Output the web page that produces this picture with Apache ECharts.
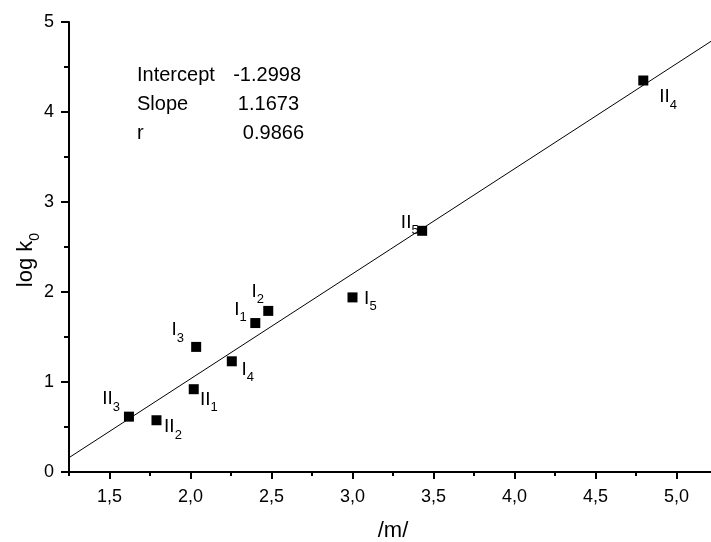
<!DOCTYPE html>
<html>
<head>
<meta charset="utf-8">
<script src="https://cdn.jsdelivr.net/npm/echarts@6/dist/echarts.min.js"></script>
<style>
html,body{margin:0;padding:0;background:#fff;}
#chart{width:711px;height:542px;}
</style>
</head>
<body>
<div id="chart"></div>
<script>
// ---- data ----
var pointNames = ['II3', 'II2', 'II1', 'I4', 'I3', 'I1', 'I2', 'I5', 'II5', 'II4'];
var labelMain  = ['II', 'II', 'II', 'I', 'I', 'I', 'I', 'I', 'II', 'II'];
var labelSub   = ['3', '2', '1', '4', '3', '1', '2', '5', '5', '4'];
var xValues    = [1.62, 1.79, 2.02, 2.255, 2.035, 2.40, 2.48, 3.00, 3.43, 4.795];
var yValues    = [0.615, 0.575, 0.92, 1.23, 1.39, 1.655, 1.79, 1.94, 2.68, 4.35];
var fitIntercept = -1.2998;
var fitSlope = 1.1673;
var fitR = 0.9866;
var xTickValues = [1.5, 2.0, 2.5, 3.0, 3.5, 4.0, 4.5, 5.0];
var yTickValues = [0, 1, 2, 3, 4, 5];
var xName = '/m/';

// ---- styling / label placement (not data) ----
var FONT = '"Liberation Sans", Arial, Helvetica, sans-serif';
var labelPlacement = {
  II3: {align: 'right', pos: [-4, -22]},
  II2: {align: 'left',  pos: [12.6, 2.2]},
  II1: {align: 'left',  pos: [11.3, 5.9]},
  I4:  {align: 'left',  pos: [14.6, 3.9]},
  I3:  {align: 'right', pos: [-7.2, -21.2]},
  I1:  {align: 'right', pos: [-3.5, -17.8]},
  I2:  {align: 'right', pos: [0.8, -24.1]},
  I5:  {align: 'left',  pos: [16.6, -3.5]},
  II5: {align: 'right', pos: [1.5, -12.5]},
  II4: {align: 'left',  pos: [21, 12]}
};

var xMin = 1.25, xMax = 5.25;

var scatterData = pointNames.map(function (n, i) {
  var p = labelPlacement[n];
  return {
    name: n,
    value: [xValues[i], yValues[i]],
    label: {
      show: true,
      formatter: '{a|' + labelMain[i] + '}{b|' + labelSub[i] + '}',
      position: p.pos,
      align: p.align,
      verticalAlign: 'top'
    }
  };
});

var fitData = [xMin, xMax].map(function (x) { return [x, fitIntercept + fitSlope * x]; });

var chart = echarts.init(document.getElementById('chart'), null, {renderer: 'canvas'});
var fmt = function (v) { return String(Number(v).toFixed(1)).replace('.', ','); };

chart.setOption({
  animation: false,
  backgroundColor: '#fff',
  grid: {left: 69, right: -6, top: 22, bottom: 70, containLabel: false, outerBoundsMode: 'none'},
  xAxis: [{
    type: 'value', position: 'bottom', min: xMin, max: xMax,
    name: xName, nameLocation: 'middle', nameGap: 48, nameMoveOverlap: false,
    nameTextStyle: {fontFamily: FONT, fontSize: 22, color: '#000'},
    axisLine: {show: true, onZero: false, lineStyle: {color: '#000', width: 2}},
    axisTick: {show: true, inside: false, length: 7, customValues: xTickValues, lineStyle: {color: '#000', width: 2}},
    axisLabel: {show: true, customValues: xTickValues, margin: 16, fontFamily: FONT, fontSize: 18, color: '#000', formatter: fmt},
    splitLine: {show: false}
  }, {
    type: 'value', position: 'bottom', min: xMin, max: xMax, interval: 0.25,
    axisLine: {show: false},
    axisTick: {show: true, inside: false, length: 4, lineStyle: {color: '#000', width: 2}},
    axisLabel: {show: false},
    splitLine: {show: false}
  }],
  yAxis: {
    type: 'value', min: 0, max: 5, interval: 1,
    name: '{a|log k}{b|0}', nameLocation: 'middle', nameGap: 27, nameMoveOverlap: false,
    nameTextStyle: {
      fontFamily: FONT, fontSize: 22, color: '#000', padding: [0, 26, 0, 0],
      rich: {
        a: {fontFamily: FONT, fontSize: 22, color: '#000', verticalAlign: 'top'},
        b: {fontFamily: FONT, fontSize: 14, color: '#000', verticalAlign: 'top', padding: [13, 0, 0, 0]}
      }
    },
    axisLine: {show: true, onZero: false, lineStyle: {color: '#000', width: 2}},
    axisTick: {show: true, inside: false, length: 8, lineStyle: {color: '#000', width: 2}},
    minorTick: {show: true, splitNumber: 2, length: 5, lineStyle: {color: '#000', width: 2}},
    axisLabel: {margin: 15, fontFamily: FONT, fontSize: 18, color: '#000'},
    splitLine: {show: false},
    minorSplitLine: {show: false}
  },
  series: [{
    type: 'line',
    data: fitData,
    xAxisIndex: 0,
    symbol: 'none',
    silent: true,
    clip: true,
    lineStyle: {color: '#000', width: 1}
  }, {
    type: 'scatter',
    xAxisIndex: 0,
    symbol: 'rect',
    symbolSize: 10,
    itemStyle: {color: '#000', opacity: 1},
    data: scatterData,
    label: {
      show: true,
      color: '#000',
      fontFamily: FONT,
      rich: {
        a: {fontFamily: FONT, fontSize: 19, color: '#000', verticalAlign: 'top'},
        b: {fontFamily: FONT, fontSize: 13, color: '#000', verticalAlign: 'top', padding: [11, 0, 0, 0]}
      }
    },
    emphasis: {disabled: true}
  }],
  graphic: [
    {type: 'text', silent: true, style: {x: 137, y: 75.5, text: 'Intercept', font: '20px ' + FONT, fill: '#000', textAlign: 'left', textVerticalAlign: 'middle', verticalAlign: 'middle'}},
    {type: 'text', silent: true, style: {x: 301, y: 75.5, text: fitIntercept.toFixed(4), font: '20px ' + FONT, fill: '#000', textAlign: 'right', textVerticalAlign: 'middle', verticalAlign: 'middle'}},
    {type: 'text', silent: true, style: {x: 137, y: 104.5, text: 'Slope', font: '20px ' + FONT, fill: '#000', textAlign: 'left', textVerticalAlign: 'middle', verticalAlign: 'middle'}},
    {type: 'text', silent: true, style: {x: 299, y: 104.5, text: fitSlope.toFixed(4), font: '20px ' + FONT, fill: '#000', textAlign: 'right', textVerticalAlign: 'middle', verticalAlign: 'middle'}},
    {type: 'text', silent: true, style: {x: 137, y: 133.5, text: 'r', font: '20px ' + FONT, fill: '#000', textAlign: 'left', textVerticalAlign: 'middle', verticalAlign: 'middle'}},
    {type: 'text', silent: true, style: {x: 304, y: 133.5, text: fitR.toFixed(4), font: '20px ' + FONT, fill: '#000', textAlign: 'right', textVerticalAlign: 'middle', verticalAlign: 'middle'}}
  ]
});
</script>
</body>
</html>
